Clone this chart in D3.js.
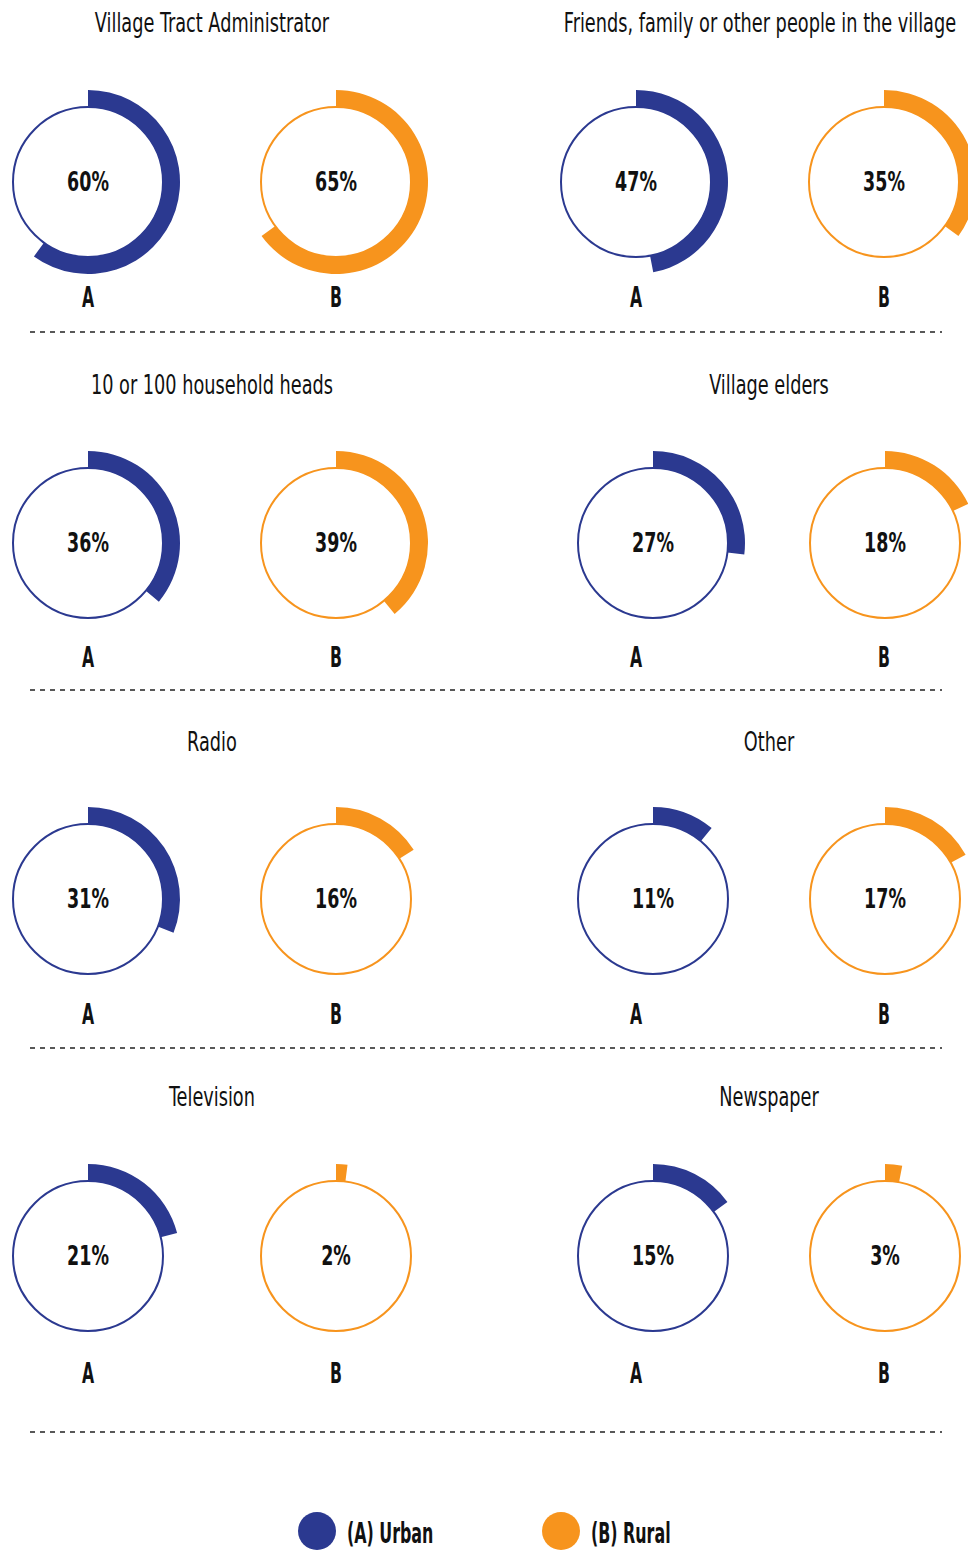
<!DOCTYPE html>
<html>
<head>
<meta charset="utf-8">
<script src="https://cdn.jsdelivr.net/npm/d3@7"></script>
<style>
  body { margin: 0; background: #fff; }
  svg { display: block; }
  text { font-family: "DejaVu Sans Condensed", "DejaVu Sans", sans-serif; fill: #111; }
</style>
</head>
<body>
<svg id="chart" width="968" height="1550"></svg>
<script>
// sources of information, in reading order
const titles = [
  "Village Tract Administrator", "Friends, family or other people in the village",
  "10 or 100 household heads", "Village elders",
  "Radio", "Other",
  "Television", "Newspaper"
];
const urban = [60, 47, 36, 27, 31, 11, 21, 15];
const rural = [65, 35, 39, 18, 16, 17, 2, 3];
const groupLabels = ["A", "B"];
const legendLabels = ["(A) Urban", "(B) Rural"];

const colors = { A: "#2b3990", B: "#f7941d" };

// layout
const rowTitleY = [23, 385, 742, 1097];
const rowCenterY = [182, 543, 899, 1256];
const rowLabelY = [297, 657, 1014, 1373];
const rowDashY = [332, 690, 1048, 1432];
const r = 75, bandR = 92;

let svg = d3.select("#chart");

let angle = d3.scaleLinear().domain([0, 100]).range([0, 2 * Math.PI]);
let arc = d3.arc().innerRadius(r).outerRadius(bandR).startAngle(0);

// condensed look: squeeze the glyphs horizontally
function squeeze(sel, x, y, sx) {
  return sel.attr("transform", d => `translate(${x(d)},${y(d)}) scale(${sx},1)`);
}

let cells = titles.map((t, i) => {
  let row = Math.floor(i / 2), col = i % 2;
  return {
    title: t, row: row, col: col,
    values: [urban[i], rural[i]],
    titleX: col === 0 ? 212 : (row === 0 ? 760 : 769),
    xs: col === 0 ? [88, 336] : (row === 0 ? [636, 884] : [653, 885]),
    labelXs: col === 0 ? [88, 336] : [636, 884]
  };
});

let g = svg.selectAll(".cell")
  .data(cells)
  .join("g")
  .attr("class", "cell");

g.append("text")
  .call(squeeze, d => d.titleX, d => rowTitleY[d.row], 0.73)
  .attr("dy", "0.35em")
  .attr("text-anchor", "middle")
  .attr("font-size", "27px")
  .text(d => d.title);

let donut = g.selectAll(".donut")
  .data(d => d.values.map((v, k) => ({
    v: v, k: groupLabels[k], x: d.xs[k], lx: d.labelXs[k], row: d.row
  })))
  .join("g")
  .attr("class", "donut");

donut.append("circle")
  .attr("cx", d => d.x)
  .attr("cy", d => rowCenterY[d.row])
  .attr("r", r)
  .attr("fill", "none")
  .attr("stroke", d => colors[d.k])
  .attr("stroke-width", 2);

donut.append("path")
  .attr("transform", d => `translate(${d.x},${rowCenterY[d.row]})`)
  .attr("d", d => arc({ endAngle: angle(d.v) }))
  .attr("fill", d => colors[d.k]);

donut.append("text")
  .call(squeeze, d => d.x, d => rowCenterY[d.row], 0.72)
  .attr("dy", "0.35em")
  .attr("text-anchor", "middle")
  .attr("font-size", "27px")
  .attr("font-weight", "bold")
  .text(d => d.v + "%");

donut.append("text")
  .call(squeeze, d => d.lx, d => rowLabelY[d.row], 0.6)
  .attr("dy", "0.35em")
  .attr("text-anchor", "middle")
  .attr("font-size", "29px")
  .attr("font-weight", "bold")
  .text(d => d.k);

// dashed separators
svg.selectAll(".sep")
  .data(rowDashY)
  .join("line")
  .attr("class", "sep")
  .attr("x1", 30)
  .attr("x2", 942)
  .attr("y1", d => d)
  .attr("y2", d => d)
  .attr("stroke", "#222")
  .attr("stroke-width", 1.4)
  .attr("stroke-dasharray", "5,5");

// legend
let legend = svg.selectAll(".legend")
  .data(legendLabels)
  .join("g")
  .attr("class", "legend")
  .attr("transform", (d, i) => `translate(${317 + i * 244}, 1531)`);

legend.append("circle")
  .attr("r", 19)
  .attr("fill", (d, i) => colors[groupLabels[i]]);

legend.append("text")
  .call(squeeze, () => 30, () => 2, 0.63)
  .attr("dy", "0.35em")
  .attr("font-size", "28px")
  .attr("font-weight", "bold")
  .text(d => d);
</script>
</body>
</html>
